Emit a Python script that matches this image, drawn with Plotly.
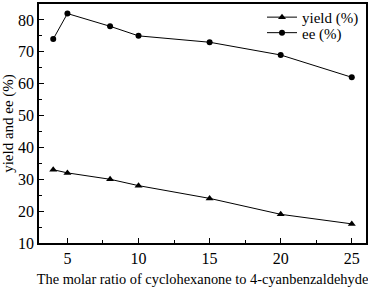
import plotly.graph_objects as go

ratio = [4, 5, 8, 10, 15, 20, 25]
yield_pct = [33, 32, 30, 28, 24, 19, 16]
ee_pct = [74, 82, 78, 75, 73, 69, 62]

font = "Liberation Serif"

fig = go.Figure()
fig.add_trace(go.Scatter(x=ratio, y=yield_pct, mode="lines+markers", name="yield (%)",
                         line=dict(color="black", width=1),
                         marker=dict(symbol="triangle-up", size=7, color="black"),
                         legend="legend"))
fig.add_trace(go.Scatter(x=ratio, y=ee_pct, mode="lines+markers", name="ee (%)",
                         line=dict(color="black", width=1),
                         marker=dict(symbol="circle", size=6, color="black"),
                         legend="legend2"))

axis_common = dict(showline=True, linecolor="black", linewidth=1.5, mirror=True,
                   ticks="inside", ticklen=5, tickwidth=1, tickcolor="black",
                   showgrid=False, zeroline=False,
                   tickfont=dict(family=font, size=16, color="black"))

fig.update_xaxes(range=[3, 26], tickvals=[5, 10, 15, 20, 25],
                 minor=dict(ticks="inside", ticklen=3, tickcolor="black", dtick=2.5, tick0=2.5),
                 title=dict(text="The molar ratio of cyclohexanone to 4-cyanbenzaldehyde",
                            font=dict(family=font, size=14.4, color="black"), standoff=10),
                 **axis_common)
fig.update_yaxes(range=[10, 85], tickvals=[10, 20, 30, 40, 50, 60, 70, 80],
                 minor=dict(ticks="inside", ticklen=3, tickcolor="black", dtick=5, tick0=5),
                 title=dict(text="yield and ee (%)",
                            font=dict(family=font, size=15, color="black"), standoff=3),
                 **axis_common)

leg_common = dict(x=0.682, xanchor="left", yanchor="middle",
                  font=dict(family=font, size=15, color="black"),
                  bgcolor="rgba(0,0,0,0)", tracegroupgap=0)

fig.update_layout(width=368, height=287, margin=dict(l=39, r=2, t=1, b=44),
                  paper_bgcolor="white", plot_bgcolor="white",
                  showlegend=True,
                  legend=dict(y=0.944, **leg_common),
                  legend2=dict(y=0.879, **leg_common))

fig.write_html("out.html", config={"displayModeBar": False},
               post_script="document.body.style.margin='0';")
